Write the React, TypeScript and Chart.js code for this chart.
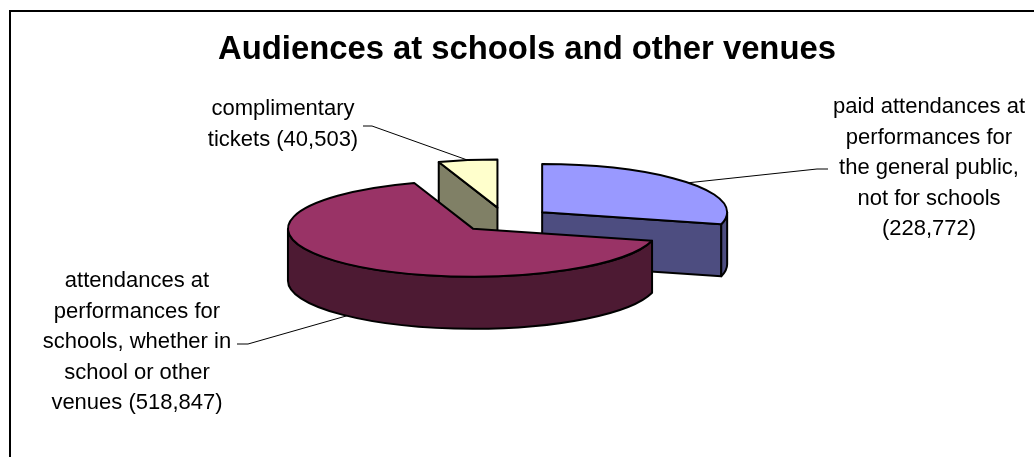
import React, { useEffect, useRef } from "react";
import { Chart, PieController, ArcElement, Title } from "chart.js";

const chartTitle = "Audiences at schools and other venues";
const categories = [
  "paid attendances at performances for the general public, not for schools",
  "attendances at performances for schools, whether in school or other venues",
  "complimentary tickets",
];
const attendance = [228772, 518847, 40503];
const faceColors = ["#9999FF", "#993366", "#FFFFCC"];
const sideColors = ["#4D4D80", "#4D1A33", "#808066"];

// Wrapped caption text; the count is appended in brackets to the final line.
const captionLines = [
  ["paid attendances at", "performances for", "the general public,", "not for schools", ""],
  ["attendances at", "performances for", "schools, whether in", "school or other", "venues "],
  ["complimentary", "tickets "],
];

// Caption placement and the elbow of each leader line.
const captionCenters = [
  { x: 929, y: 107 },
  { x: 137, y: 281 },
  { x: 283, y: 109 },
];
const leaderElbows = [
  [{ x: 828, y: 169 }, { x: 817, y: 169 }],
  [{ x: 237, y: 344 }, { x: 248, y: 344 }],
  [{ x: 363, y: 126 }, { x: 372, y: 126 }],
];

const PIE_CENTER = { x: 505, y: 219.7 };
const PIE_RADIUS = 185;
const TILT = 0.26;
const DEPTH = 52;
const EXPLODE = 0.254;
const LINE_PITCH = 30.6;
const OUTLINE = 2;
const FONT_FAMILY = "'Liberation Sans', Arial, sans-serif";

function sliceCenter(arc: any) {
  const mid = (arc.startAngle + arc.endAngle) / 2;
  return {
    x: PIE_CENTER.x + Math.cos(mid) * arc.outerRadius * EXPLODE,
    y: PIE_CENTER.y + Math.sin(mid) * arc.outerRadius * EXPLODE * TILT,
  };
}

function rimPoint(arc: any, angle: number) {
  const c = sliceCenter(arc);
  return {
    x: c.x + Math.cos(angle) * arc.outerRadius,
    y: c.y + Math.sin(angle) * arc.outerRadius * TILT,
  };
}

// A pie seen at an angle: each slice is lifted off the centre, squashed
// vertically and given side walls, painted from the back to the front.
class TiltedPieController extends PieController {
  static id = "tiltedPie";

  draw() {
    const ctx = this.chart.ctx;
    const arcs = this.getMeta().data as any[];
    const order = arcs
      .map((_, i) => i)
      .sort((a, b) => sliceCenter(arcs[a]).y - sliceCenter(arcs[b]).y);

    for (const i of order) {
      const arc = arcs[i];
      const c = sliceCenter(arc);
      const r = arc.outerRadius;
      const ry = r * TILT;

      ctx.save();
      ctx.fillStyle = sideColors[i];
      ctx.strokeStyle = "#000";
      ctx.lineWidth = OUTLINE;
      ctx.lineJoin = "round";

      // Cut faces that turn towards the viewer.
      const radial = (angle: number) => {
        const p = rimPoint(arc, angle);
        ctx.beginPath();
        ctx.moveTo(c.x, c.y);
        ctx.lineTo(p.x, p.y);
        ctx.lineTo(p.x, p.y + DEPTH);
        ctx.lineTo(c.x, c.y + DEPTH);
        ctx.closePath();
        ctx.fill();
        ctx.stroke();
      };
      if (Math.cos(arc.startAngle) < -1e-6) radial(arc.startAngle);
      if (Math.cos(arc.endAngle) > 1e-6) radial(arc.endAngle);

      // Curved outer wall along the near half of the rim.
      const from = Math.max(arc.startAngle, 0);
      const to = Math.min(arc.endAngle, Math.PI);
      if (to > from) {
        ctx.beginPath();
        ctx.ellipse(c.x, c.y, r, ry, 0, from, to);
        ctx.ellipse(c.x, c.y + DEPTH, r, ry, 0, to, from, true);
        ctx.closePath();
        ctx.fill();
        ctx.stroke();
      }
      ctx.restore();

      // Top face, filled by the arc element itself under the squash.
      ctx.save();
      ctx.translate(c.x, c.y);
      ctx.scale(1, TILT);
      ctx.translate(-arc.x, -arc.y);
      arc.draw(ctx);
      ctx.restore();

      // Outline in screen space so the pen keeps an even width.
      ctx.save();
      ctx.strokeStyle = "#000";
      ctx.lineWidth = OUTLINE;
      ctx.lineJoin = "round";
      ctx.beginPath();
      ctx.moveTo(c.x, c.y);
      ctx.ellipse(c.x, c.y, r, ry, 0, arc.startAngle, arc.endAngle);
      ctx.closePath();
      ctx.stroke();
      ctx.restore();
    }
  }
}

// Top and left rules of the chart frame.
const framePlugin = {
  id: "frameRules",
  beforeDraw(chart: any) {
    const { ctx, width, height } = chart;
    ctx.save();
    ctx.strokeStyle = "#000";
    ctx.lineWidth = 2;
    ctx.beginPath();
    ctx.moveTo(10, height);
    ctx.lineTo(10, 11);
    ctx.lineTo(width, 11);
    ctx.stroke();
    ctx.restore();
  },
};

// Captions and leader lines, anchored on the rim of each slice.
const captionPlugin = {
  id: "sliceCaptions",
  afterDatasetsDraw(chart: any) {
    const { ctx } = chart;
    const arcs = chart.getDatasetMeta(0).data;
    ctx.save();
    ctx.fillStyle = "#000";
    ctx.font = `22px ${FONT_FAMILY}`;
    ctx.textAlign = "center";
    ctx.textBaseline = "middle";
    captionLines.forEach((lines, i) => {
      const count = `(${attendance[i].toLocaleString("en-US")})`;
      lines.forEach((line, n) => {
        const text = n === lines.length - 1 ? line + count : line;
        ctx.fillText(text, captionCenters[i].x, captionCenters[i].y + n * LINE_PITCH);
      });
    });

    ctx.strokeStyle = "#000";
    ctx.lineWidth = 1;
    arcs.forEach((arc: any, i: number) => {
      const mid = (arc.startAngle + arc.endAngle) / 2;
      const rim = rimPoint(arc, mid);
      const drop = Math.sin(mid) > 0 ? DEPTH : 0;
      const [a, b] = leaderElbows[i];
      ctx.beginPath();
      ctx.moveTo(a.x, a.y);
      ctx.lineTo(b.x, b.y);
      ctx.lineTo(rim.x, rim.y + drop);
      ctx.stroke();
    });
    ctx.restore();
  },
};

Chart.register(TiltedPieController, ArcElement, Title);

export default function App() {
  const ref = useRef<HTMLCanvasElement | null>(null);

  useEffect(() => {
    const chart = new Chart(ref.current as HTMLCanvasElement, {
      type: "tiltedPie" as any,
      data: {
        labels: categories,
        datasets: [
          {
            data: attendance,
            backgroundColor: faceColors,
            borderWidth: 0,
          },
        ],
      },
      options: {
        animation: false,
        responsive: false,
        maintainAspectRatio: false,
        radius: PIE_RADIUS,
        layout: { padding: { left: 20 } },
        plugins: {
          legend: { display: false },
          tooltip: { enabled: false },
          title: {
            display: true,
            text: chartTitle,
            color: "#000",
            font: { family: FONT_FAMILY, size: 32.8, weight: "bold" },
            padding: { top: 30, bottom: 10 },
          },
        },
      } as any,
      plugins: [framePlugin, captionPlugin],
    });
    return () => chart.destroy();
  }, []);

  return (
    <canvas
      ref={ref}
      width={1034}
      height={457}
      style={{ position: "fixed", left: 0, top: 0, display: "block" }}
    />
  );
}
